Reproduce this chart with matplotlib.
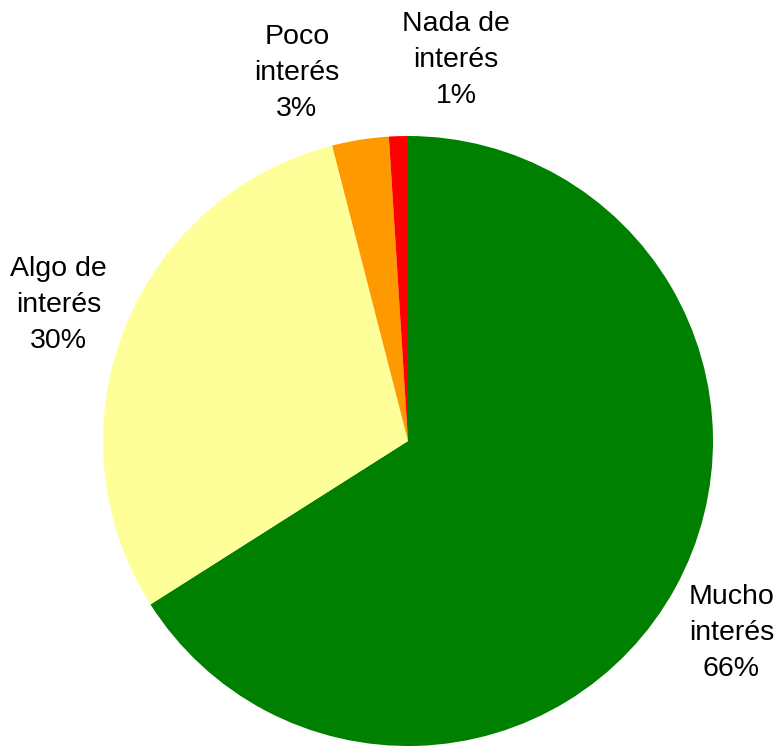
import numpy as np
import matplotlib
matplotlib.use("Agg")
import matplotlib.pyplot as plt

plt.rcParams['font.family'] = ['Liberation Sans', 'DejaVu Sans']

categories = ["Mucho\ninterés", "Algo de\ninterés", "Poco\ninterés", "Nada de\ninterés"]
values = [66, 30, 3, 1]
colors = ["#008000", "#FFFF99", "#FF9900", "#FF0000"]
# label placement: (radius factor, angle shift in degrees)
label_place = [(1.233, -1.9), (1.23, 0.3), (1.26, 7.8), (1.26, -9.0)]

fig = plt.figure(figsize=(7.81, 7.46), dpi=100)
ax = fig.add_axes([103/781, 0/746, 610/781, 610/746])

wedges, _ = ax.pie(values, colors=colors, startangle=90, counterclock=False,
                   radius=1.0, center=(0, 0), frame=False,
                   wedgeprops=dict(linewidth=0))
ax.set_xlim(-1, 1)
ax.set_ylim(-1, 1)
ax.set_aspect('auto')
ax.axis('off')

total = sum(values)
for w, cat, v, (r, shift) in zip(wedges, categories, values, label_place):
    mid = (w.theta1 + w.theta2) / 2 + shift
    x = r * np.cos(np.radians(mid))
    y = r * np.sin(np.radians(mid))
    ax.text(x, y, f"{cat}\n{round(100 * v / total)}%", ha='center', va='center',
            fontsize=20.5, linespacing=1.5, clip_on=False)

fig.savefig("out.png", dpi=100)
